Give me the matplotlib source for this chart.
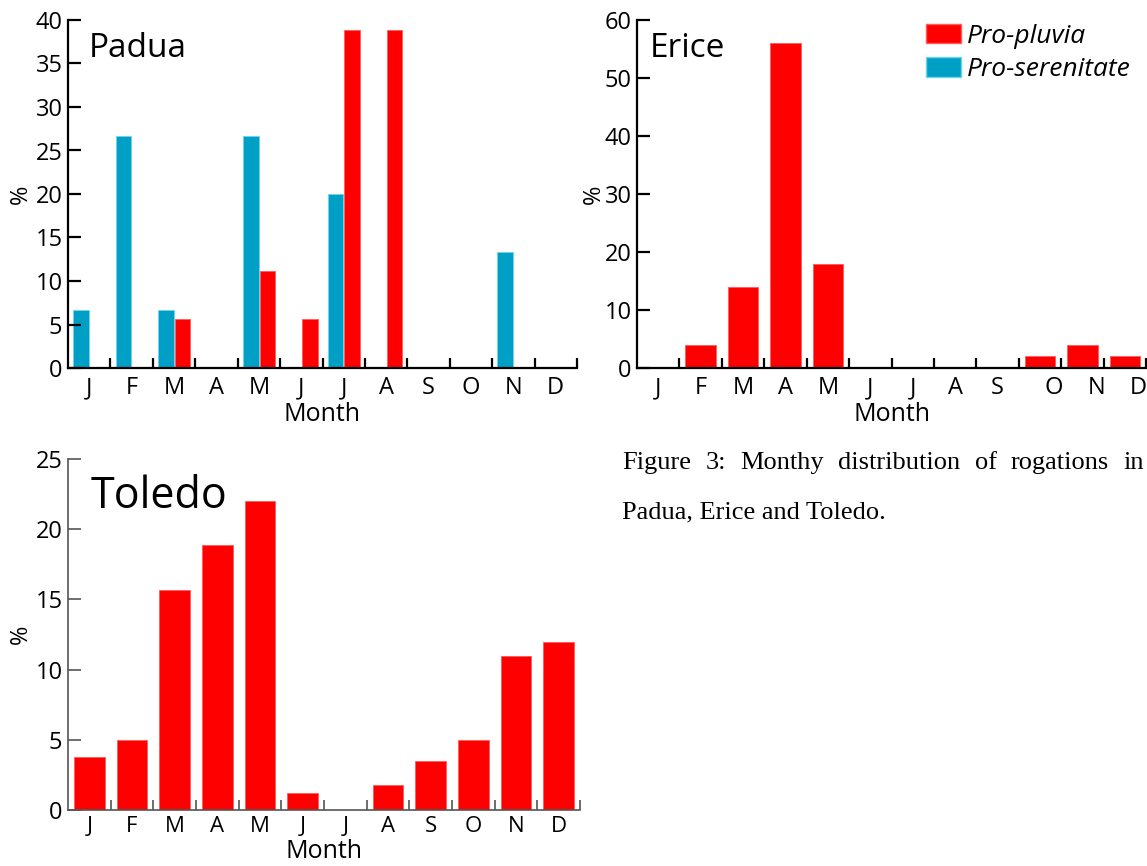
import matplotlib
matplotlib.use("Agg")
import matplotlib.pyplot as plt
from matplotlib.patches import Patch
import numpy as np

plt.rcParams['font.family'] = ['Open Sans', 'DejaVu Sans']

months = ["J", "F", "M", "A", "M", "J", "J", "A", "S", "O", "N", "D"]

padua_pro_pluvia = [0, 0, 5.6, 0, 11.1, 5.6, 38.9, 38.9, 0, 0, 0, 0]
padua_pro_serenitate = [6.7, 26.7, 6.7, 0, 26.7, 0, 20.0, 0, 0, 0, 13.3, 0]
erice_pro_pluvia = [0, 4, 14, 56, 18, 0, 0, 0, 0, 2, 4, 2]
toledo_pro_pluvia = [3.8, 5.0, 15.7, 18.9, 22.0, 1.2, 0, 1.8, 3.5, 5.0, 11.0, 12.0]

RED = "#ff0000"
BLUE = "#00a0c6"

W, H = 1147, 866
fig = plt.figure(figsize=(W / 100, H / 100), dpi=100)
fig.patch.set_facecolor("white")


def px_axes(x0, x1, ytop, ybot):
    return fig.add_axes([x0 / W, 1 - ybot / H, (x1 - x0) / W, (ybot - ytop) / H])


def style(ax, ymax, ystep, spine_color="black", lw=1.6, label_shift=None,
          xlabelsize=17, xlabelpad=2, xtickpad=6):
    for s in ["top", "right"]:
        ax.spines[s].set_visible(False)
    for s in ["left", "bottom"]:
        ax.spines[s].set_color(spine_color)
        ax.spines[s].set_linewidth(lw)
    ax.set_xlim(0, 12)
    ax.set_ylim(0, ymax)
    ax.set_yticks(np.arange(0, ymax + 0.1, ystep))
    ax.tick_params(axis="y", direction="in", length=9, width=lw, labelsize=17,
                   pad=4, color=spine_color)
    centers = np.arange(12) + 0.5
    if label_shift is not None:
        centers = centers + np.array(label_shift)
    ax.set_xticks(centers)
    ax.set_xticklabels(months)
    ax.set_xticks(np.arange(1, 13), minor=True)
    ax.tick_params(axis="x", which="major", length=0, labelsize=xlabelsize,
                   pad=xtickpad)
    ax.tick_params(axis="x", which="minor", direction="in", length=7, width=lw,
                   color=spine_color)
    ax.set_xlabel("Month", fontsize=18, labelpad=xlabelpad)
    ax.set_ylabel("%", fontsize=17, labelpad=2)
    ax.set_facecolor("none")


x = np.arange(12)

# Padua
ax1 = px_axes(68, 577, 20, 368)
ax1.bar(x + 0.31, padua_pro_serenitate, width=0.37, color=BLUE,
        edgecolor="#6fd3ea", linewidth=0.6)
ax1.bar(x + 0.70, padua_pro_pluvia, width=0.37, color=RED,
        edgecolor="#ff5a5a", linewidth=0.6)
style(ax1, 40, 5, xlabelpad=1)
ax1.text(0.04, 0.965, "Padua", transform=ax1.transAxes, fontsize=24,
         va="top", ha="left")

# Erice
ax2 = px_axes(637, 1146, 20, 368)
ax2.bar(x + 0.5, erice_pro_pluvia, width=0.72, color=RED,
        edgecolor="#ff5a5a", linewidth=0.6)
style(ax2, 60, 10, label_shift=[0] * 9 + [0.33] * 3, xlabelpad=1)
ax2.yaxis.labelpad = -1
ax2.text(0.025, 0.965, "Erice", transform=ax2.transAxes, fontsize=24,
         va="top", ha="left")
handles = [Patch(facecolor=RED, edgecolor="#ff5a5a", label="Pro-pluvia"),
           Patch(facecolor=BLUE, edgecolor="#6fd3ea", label="Pro-serenitate")]
ax2.legend(handles=handles, loc="upper right", bbox_to_anchor=(1.0, 1.035),
           frameon=False, prop={"style": "italic", "size": 19},
           handlelength=1.33, handleheight=0.78, handletextpad=0.2,
           labelspacing=0.3, borderaxespad=0.2)

# Toledo
ax3 = px_axes(68, 580, 459, 810)
ax3.bar(x + 0.5, toledo_pro_pluvia, width=0.72, color=RED,
        edgecolor="#ff5a5a", linewidth=0.6)
style(ax3, 25, 5, spine_color="#555555", lw=1.2, xlabelsize=16,
      xlabelpad=2, xtickpad=4)
ax3.text(0.045, 0.955, "Toledo", transform=ax3.transAxes, fontsize=31,
         va="top", ha="left")

# Caption (justified first line)
cap_kw = dict(family=["Liberation Serif"], fontsize=19, va="center", ha="left")
renderer = fig.canvas.get_renderer()


def justified_line(words, x0, x1, y):
    texts = [fig.text(0, y, w, **cap_kw) for w in words]
    widths = [t.get_window_extent(renderer).width for t in texts]
    gap = ((x1 - x0) - sum(widths)) / (len(words) - 1)
    xx = x0
    for t, w in zip(texts, widths):
        t.set_x(xx / W)
        xx += w + gap


justified_line("Figure 3: Monthy distribution of rogations in".split(), 622, 1144,
               1 - 463 / H)
fig.text(622 / W, 1 - 512 / H, "Padua, Erice and Toledo.", **cap_kw)

fig.savefig("out.png", dpi=100, facecolor="white")
